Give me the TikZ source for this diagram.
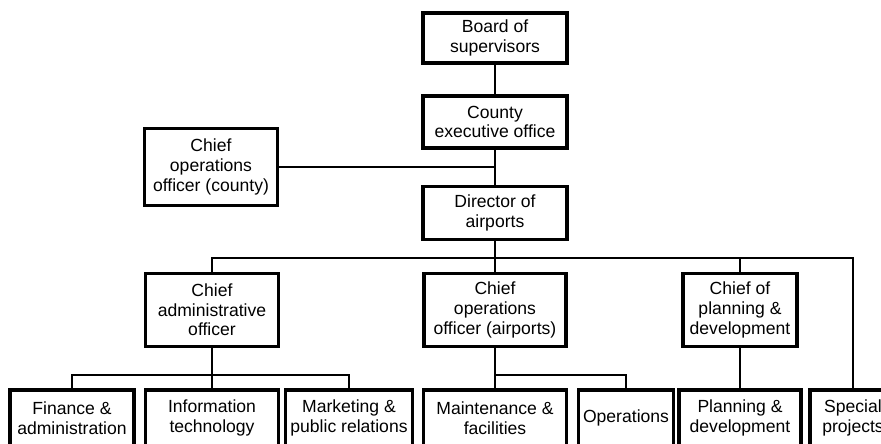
\documentclass[tikz,border=0pt]{standalone}
\usepackage{fontspec}
\setmainfont{Liberation Sans}
\usepackage{tikz}

\begin{document}
\begin{tikzpicture}[x=0.02cm, y=-0.02cm,
  box/.style={draw=black, line width=2.2pt, fill=white, align=center, inner sep=1pt,
    font=\fontsize{10}{11.2}\selectfont},
  thinbox/.style={box, line width=1.4pt},
  link/.style={draw=black, line width=0.8pt}]

\useasboundingbox (0,0) rectangle (881,443);

\node[box, minimum width=2.88cm, minimum height=1.0cm] (board) at (495,38) {Board of\\supervisors};
\node[box, minimum width=2.88cm, minimum height=1.04cm] (county) at (495,122) {County\\executive office};
\node[thinbox, minimum width=2.66cm, minimum height=1.54cm] (coocounty) at (211,167) {Chief\\operations\\officer (county)};
\node[box, minimum width=2.88cm, minimum height=1.06cm] (director) at (495,213) {Director of\\airports};

\node[box, minimum width=2.66cm, minimum height=1.46cm] (admin) at (212,310) {Chief\\administrative\\officer};
\node[box, minimum width=2.84cm, minimum height=1.46cm] (cooair) at (495,310) {Chief\\operations\\officer (airports)};
\node[box, minimum width=2.28cm, minimum height=1.46cm] (planning) at (740,310) {Chief of\\planning \&\\development};

\node[box, minimum width=2.48cm, minimum height=1.12cm] (finance) at (72,418) {Finance \&\\administration};
\node[box, minimum width=2.66cm, minimum height=1.12cm] (infotech) at (212,418) {Information\\technology};
\node[box, minimum width=2.54cm, minimum height=1.12cm] (marketing) at (349,418) {Marketing \&\\public relations};
\node[box, minimum width=2.86cm, minimum height=1.12cm] (maint) at (495,418) {Maintenance \&\\facilities};
\node[box, minimum width=1.90cm, minimum height=1.12cm] (ops) at (626,418) {Operations};
\node[box, minimum width=2.44cm, minimum height=1.12cm] (plandev) at (740,418) {Planning \&\\development};
\node[box, minimum width=1.72cm, minimum height=1.12cm] (special) at (853,418) {Special\\projects};

\coordinate (bus) at (495,258);
\coordinate (adminbus) at (212,375);

\draw[link] (board.south) -- (county.north);
\draw[link] (county.south) -- (director.north);
\draw[link] (coocounty.east) -- (coocounty.east -| director.north);
\draw[link] (director.south) -- (cooair.north);
\draw[link] (admin.north) |- (bus) -| (special.north);
\draw[link] (planning.north) -- (planning.north |- bus);

\draw[link] (admin.south) -- (infotech.north);
\draw[link] (finance.north) |- (adminbus) -| (marketing.north);
\draw[link] (cooair.south) -- (maint.north);
\draw[link] (maint.north |- adminbus) -| (ops.north);
\draw[link] (planning.south) -- (plandev.north);
\end{tikzpicture}
\end{document}
